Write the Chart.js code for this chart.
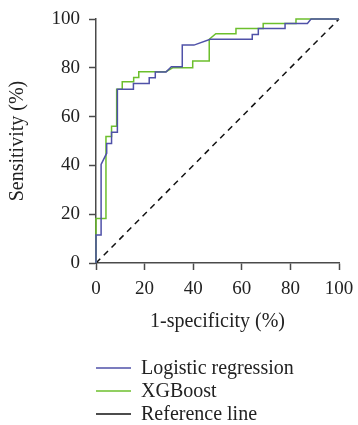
<!DOCTYPE html>
<html>
<head>
<meta charset="utf-8">
<script src="https://cdn.jsdelivr.net/npm/chart.js@4"></script>
<style>
  html, body { margin: 0; padding: 0; background: #fff; }
  #wrap { width: 358px; height: 425px; }
</style>
</head>
<body>
<div id="wrap"><canvas id="roc"></canvas></div>
<script>
// ROC corner points (percent)
const lrFpr = [0, 0, 2.1, 2.1, 4.4, 4.4, 6.4, 6.4, 8.8, 8.8, 15.4, 15.4, 21.9, 21.9, 24.4, 24.4, 28.8, 31, 35.5, 35.5, 40.3, 47, 64.3, 64.3, 66.8, 66.8, 77.8, 77.8, 87, 88.5, 100];
const lrTpr = [0, 11.5, 11.5, 40.4, 45, 49, 49, 53.6, 53.6, 71.2, 71.2, 73.6, 73.6, 75.9, 75.9, 78.3, 78.3, 80.4, 80.4, 89.3, 89.3, 91.7, 91.7, 93.6, 93.6, 96.1, 96.1, 98.2, 98.2, 100, 100];

const xgbFpr = [0, 0, 4.1, 4.1, 6.4, 6.4, 8.5, 8.5, 10.8, 10.8, 15.5, 15.5, 17.6, 17.6, 28.8, 31.5, 39.8, 39.8, 46.6, 46.6, 49.3, 57.6, 57.6, 68.8, 68.8, 82.3, 82.3, 100];
const xgbTpr = [0, 18.2, 18.2, 51.8, 51.8, 56, 56, 71.2, 71.2, 74.3, 74.3, 76, 76, 78.4, 78.4, 80, 80, 82.8, 82.8, 91.7, 94, 94, 96.1, 96.1, 98.2, 98.2, 100, 100];

const refX = [0, 100];
const refY = [0, 100];

const seriesNames = ['Logistic regression', 'XGBoost', 'Reference line'];
const axisTicks = [0, 20, 40, 60, 80, 100];

const FONT = '"Liberation Serif", "DejaVu Serif", serif';
const AXIS = '#4a4a4a';

function toPoints(xs, ys) {
    return xs.map((x, i) => ({ x: x, y: ys[i] }));
}

// legend drawn as a vertical list under the plot
const sideLegend = {
    id: 'sideLegend',
    afterDraw(chart) {
        const ctx = chart.ctx;
        ctx.save();
        ctx.font = '20px ' + FONT;
        ctx.textBaseline = 'middle';
        chart.data.datasets.forEach((ds, i) => {
            const y = 368 + i * 23;
            ctx.strokeStyle = ds.borderColor;
            ctx.lineWidth = 1.5;
            ctx.setLineDash([]);
            ctx.beginPath();
            ctx.moveTo(96, y);
            ctx.lineTo(131, y);
            ctx.stroke();
            ctx.fillStyle = '#222';
            ctx.fillText(ds.label, 141, y + 1);
        });
        ctx.restore();
    }
};

new Chart(document.getElementById('roc'), {
    type: 'scatter',
    data: {
        datasets: [
            {
                label: seriesNames[0],
                data: toPoints(lrFpr, lrTpr),
                borderColor: '#4f51a8',
                borderWidth: 1.5,
                showLine: true,
                pointRadius: 0,
                clip: false
            },
            {
                label: seriesNames[1],
                data: toPoints(xgbFpr, xgbTpr),
                borderColor: '#6cbf2c',
                borderWidth: 1.5,
                showLine: true,
                pointRadius: 0,
                clip: false
            },
            {
                label: seriesNames[2],
                data: toPoints(refX, refY),
                borderColor: '#111',
                borderWidth: 1.5,
                borderDash: [6, 5],
                showLine: true,
                pointRadius: 0,
                clip: false
            }
        ]
    },
    options: {
        responsive: true,
        maintainAspectRatio: false,
        animation: false,
        layout: { padding: { top: 19, right: 19, left: 0, bottom: 82 } },
        plugins: {
            legend: { display: false },
            tooltip: { enabled: false }
        },
        scales: {
            x: {
                type: 'linear',
                min: 0,
                max: 100,
                afterFit: scale => {
                    scale.height = 80;
                    scale.paddingLeft = 0;
                    scale.paddingRight = 0;
                },
                afterBuildTicks: scale => { scale.ticks = axisTicks.map(v => ({ value: v })); },
                grid: { drawOnChartArea: false, drawTicks: true, tickLength: 7, tickColor: AXIS, tickWidth: 1.5 },
                border: { color: AXIS, width: 1.5 },
                ticks: { color: '#222', padding: 8, font: { family: FONT, size: 19 } },
                title: { display: true, text: '1-specificity (%)', color: '#222', padding: { top: 4, bottom: 9 }, font: { family: FONT, size: 20 } }
            },
            y: {
                type: 'linear',
                min: 0,
                max: 100,
                afterFit: scale => {
                    scale.width = 96;
                    scale.paddingTop = 0;
                    scale.paddingBottom = 0;
                },
                afterBuildTicks: scale => { scale.ticks = axisTicks.map(v => ({ value: v })); },
                grid: { drawOnChartArea: false, drawTicks: true, tickLength: 7, tickColor: AXIS, tickWidth: 1.5 },
                border: { color: AXIS, width: 1.5 },
                ticks: { color: '#222', padding: 9, font: { family: FONT, size: 19 } },
                title: { display: true, text: 'Sensitivity (%)', color: '#222', padding: { top: 6, bottom: 0 }, font: { family: FONT, size: 20 } }
            }
        }
    },
    plugins: [sideLegend]
});
</script>
</body>
</html>
